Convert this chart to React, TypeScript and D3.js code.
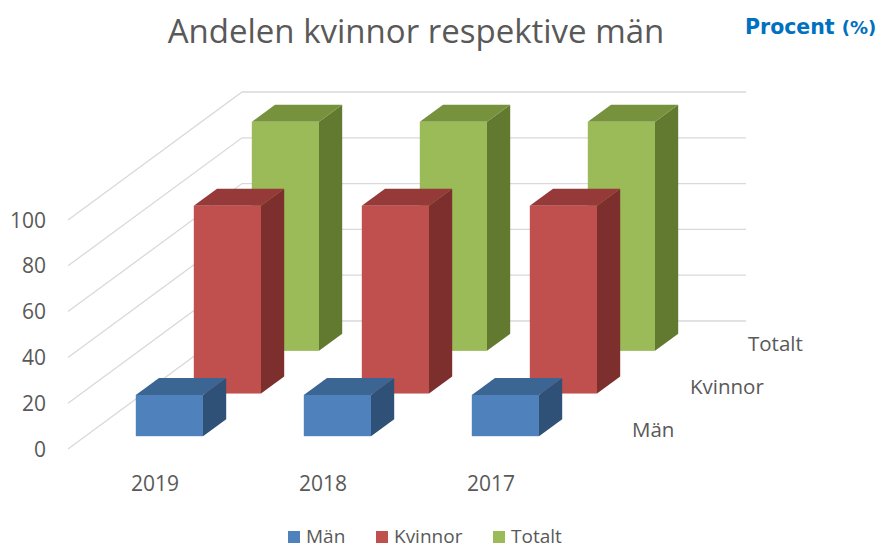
import React from "react";
import * as d3 from "d3";

const categories = ["2019", "2018", "2017"];
const seriesNames = ["Män", "Kvinnor", "Totalt"];
const manValues = [18, 18, 18];
const kvinnorValues = [82, 82, 82];
const totaltValues = [100, 100, 100];
const yTicks = [0, 20, 40, 60, 80, 100];

const seriesValues = [manValues, kvinnorValues, totaltValues];
const seriesColors = [
  { front: "#4F81BD", top: "#3B6593", side: "#2F5077" },
  { front: "#C0504D", top: "#953A38", side: "#7D2F2E" },
  { front: "#9BBB59", top: "#76923C", side: "#627A2F" },
];

const W = 888;
const H = 549;
const FRONT_LEFT = 68;
const FRONT_RIGHT = 572;
const DEPTH_DX = 174;
const DEPTH_DY = -128;
const textColor = "#595959";
const font = "'Open Sans', sans-serif";

export default function App() {
  const x = d3
    .scaleBand<string>()
    .domain(categories)
    .range([FRONT_LEFT, FRONT_RIGHT])
    .paddingInner(0.6)
    .paddingOuter(0.3);
  const y = d3.scaleLinear().domain([0, 100]).range([449, 220]);
  const z = d3
    .scaleBand<string>()
    .domain(seriesNames)
    .range([0, 1])
    .paddingInner(0.6)
    .paddingOuter(0.3);
  const ox = (d: number) => DEPTH_DX * d;
  const oy = (d: number) => DEPTH_DY * d;

  const pts = (arr: [number, number][]) => arr.map((p) => p.join(",")).join(" ");

  const bars: React.ReactNode[] = [];
  // draw back row first
  for (let s = seriesNames.length - 1; s >= 0; s--) {
    const name = seriesNames[s];
    const d0 = z(name)!;
    const d1 = d0 + z.bandwidth();
    const col = seriesColors[s];
    categories.forEach((c, i) => {
      const v = seriesValues[s][i];
      const x0 = x(c)!;
      const x1 = x0 + x.bandwidth();
      const yT = y(v);
      const yB = y(0);
      bars.push(
        <g key={`${name}-${c}`}>
          <polygon
            points={pts([
              [x1 + ox(d0), yT + oy(d0)],
              [x1 + ox(d1), yT + oy(d1)],
              [x1 + ox(d1), yB + oy(d1)],
              [x1 + ox(d0), yB + oy(d0)],
            ])}
            fill={col.side}
          />
          <polygon
            points={pts([
              [x0 + ox(d0), yT + oy(d0)],
              [x1 + ox(d0), yT + oy(d0)],
              [x1 + ox(d1), yT + oy(d1)],
              [x0 + ox(d1), yT + oy(d1)],
            ])}
            fill={col.top}
          />
          <rect
            x={x0 + ox(d0)}
            y={yT + oy(d0)}
            width={x1 - x0}
            height={yB - yT}
            fill={col.front}
          />
        </g>
      );
    });
  }

  return (
    <svg
      width={W}
      height={H}
      style={{ position: "absolute", left: 0, top: 0, background: "#fff" }}
    >
      <text
        x={416}
        y={43}
        textAnchor="middle"
        fontFamily={font}
        fontSize={33}
        fill={textColor}
      >
        Andelen kvinnor respektive män
      </text>
      <text
        x={745}
        y={34}
        fontFamily="'DejaVu Sans', sans-serif"
        fontWeight="bold"
        fontSize={20.5}
        fill="#0070C0"
      >
        Procent <tspan fontSize={18}>(%)</tspan>
      </text>

      {/* gridlines */}
      {yTicks.map((t) => (
        <g key={t}>
          <polyline
            points={pts([
              [FRONT_LEFT, y(t)],
              [FRONT_LEFT + ox(1), y(t) + oy(1)],
              [FRONT_RIGHT + ox(1), y(t) + oy(1)],
            ])}
            fill="none"
            stroke="#D9D9D9"
            strokeWidth={1.3}
          />
          <text
            x={46}
            y={y(t)}
            dy="0.36em"
            textAnchor="end"
            fontFamily={font}
            fontSize={21}
            fill={textColor}
          >
            {t}
          </text>
        </g>
      ))}

      {bars}

      {/* category labels */}
      {categories.map((c) => (
        <text
          key={c}
          x={x(c)! + x.bandwidth() / 2 + 3}
          y={491}
          textAnchor="middle"
          fontFamily={font}
          fontSize={21}
          fill={textColor}
        >
          {c}
        </text>
      ))}

      {/* series (depth) labels */}
      {seriesNames.map((n) => {
        const dc = z(n)! + z.bandwidth() / 2;
        return (
          <text
            key={n}
            x={FRONT_RIGHT + ox(dc) + 31}
            y={y(0) + oy(dc) + 9}
            fontFamily={font}
            fontSize={20.5}
            fill={textColor}
          >
            {n}
          </text>
        );
      })}

      {/* legend */}
      {seriesNames.map((n, i) => {
        const lx = [288, 376, 493][i];
        return (
          <g key={n}>
            <rect x={lx} y={531} width={12} height={12} fill={seriesColors[i].front} />
            <text
              x={lx + 18}
              y={543}
              fontFamily={font}
              fontSize={19}
              fill={textColor}
            >
              {n}
            </text>
          </g>
        );
      })}
    </svg>
  );
}
